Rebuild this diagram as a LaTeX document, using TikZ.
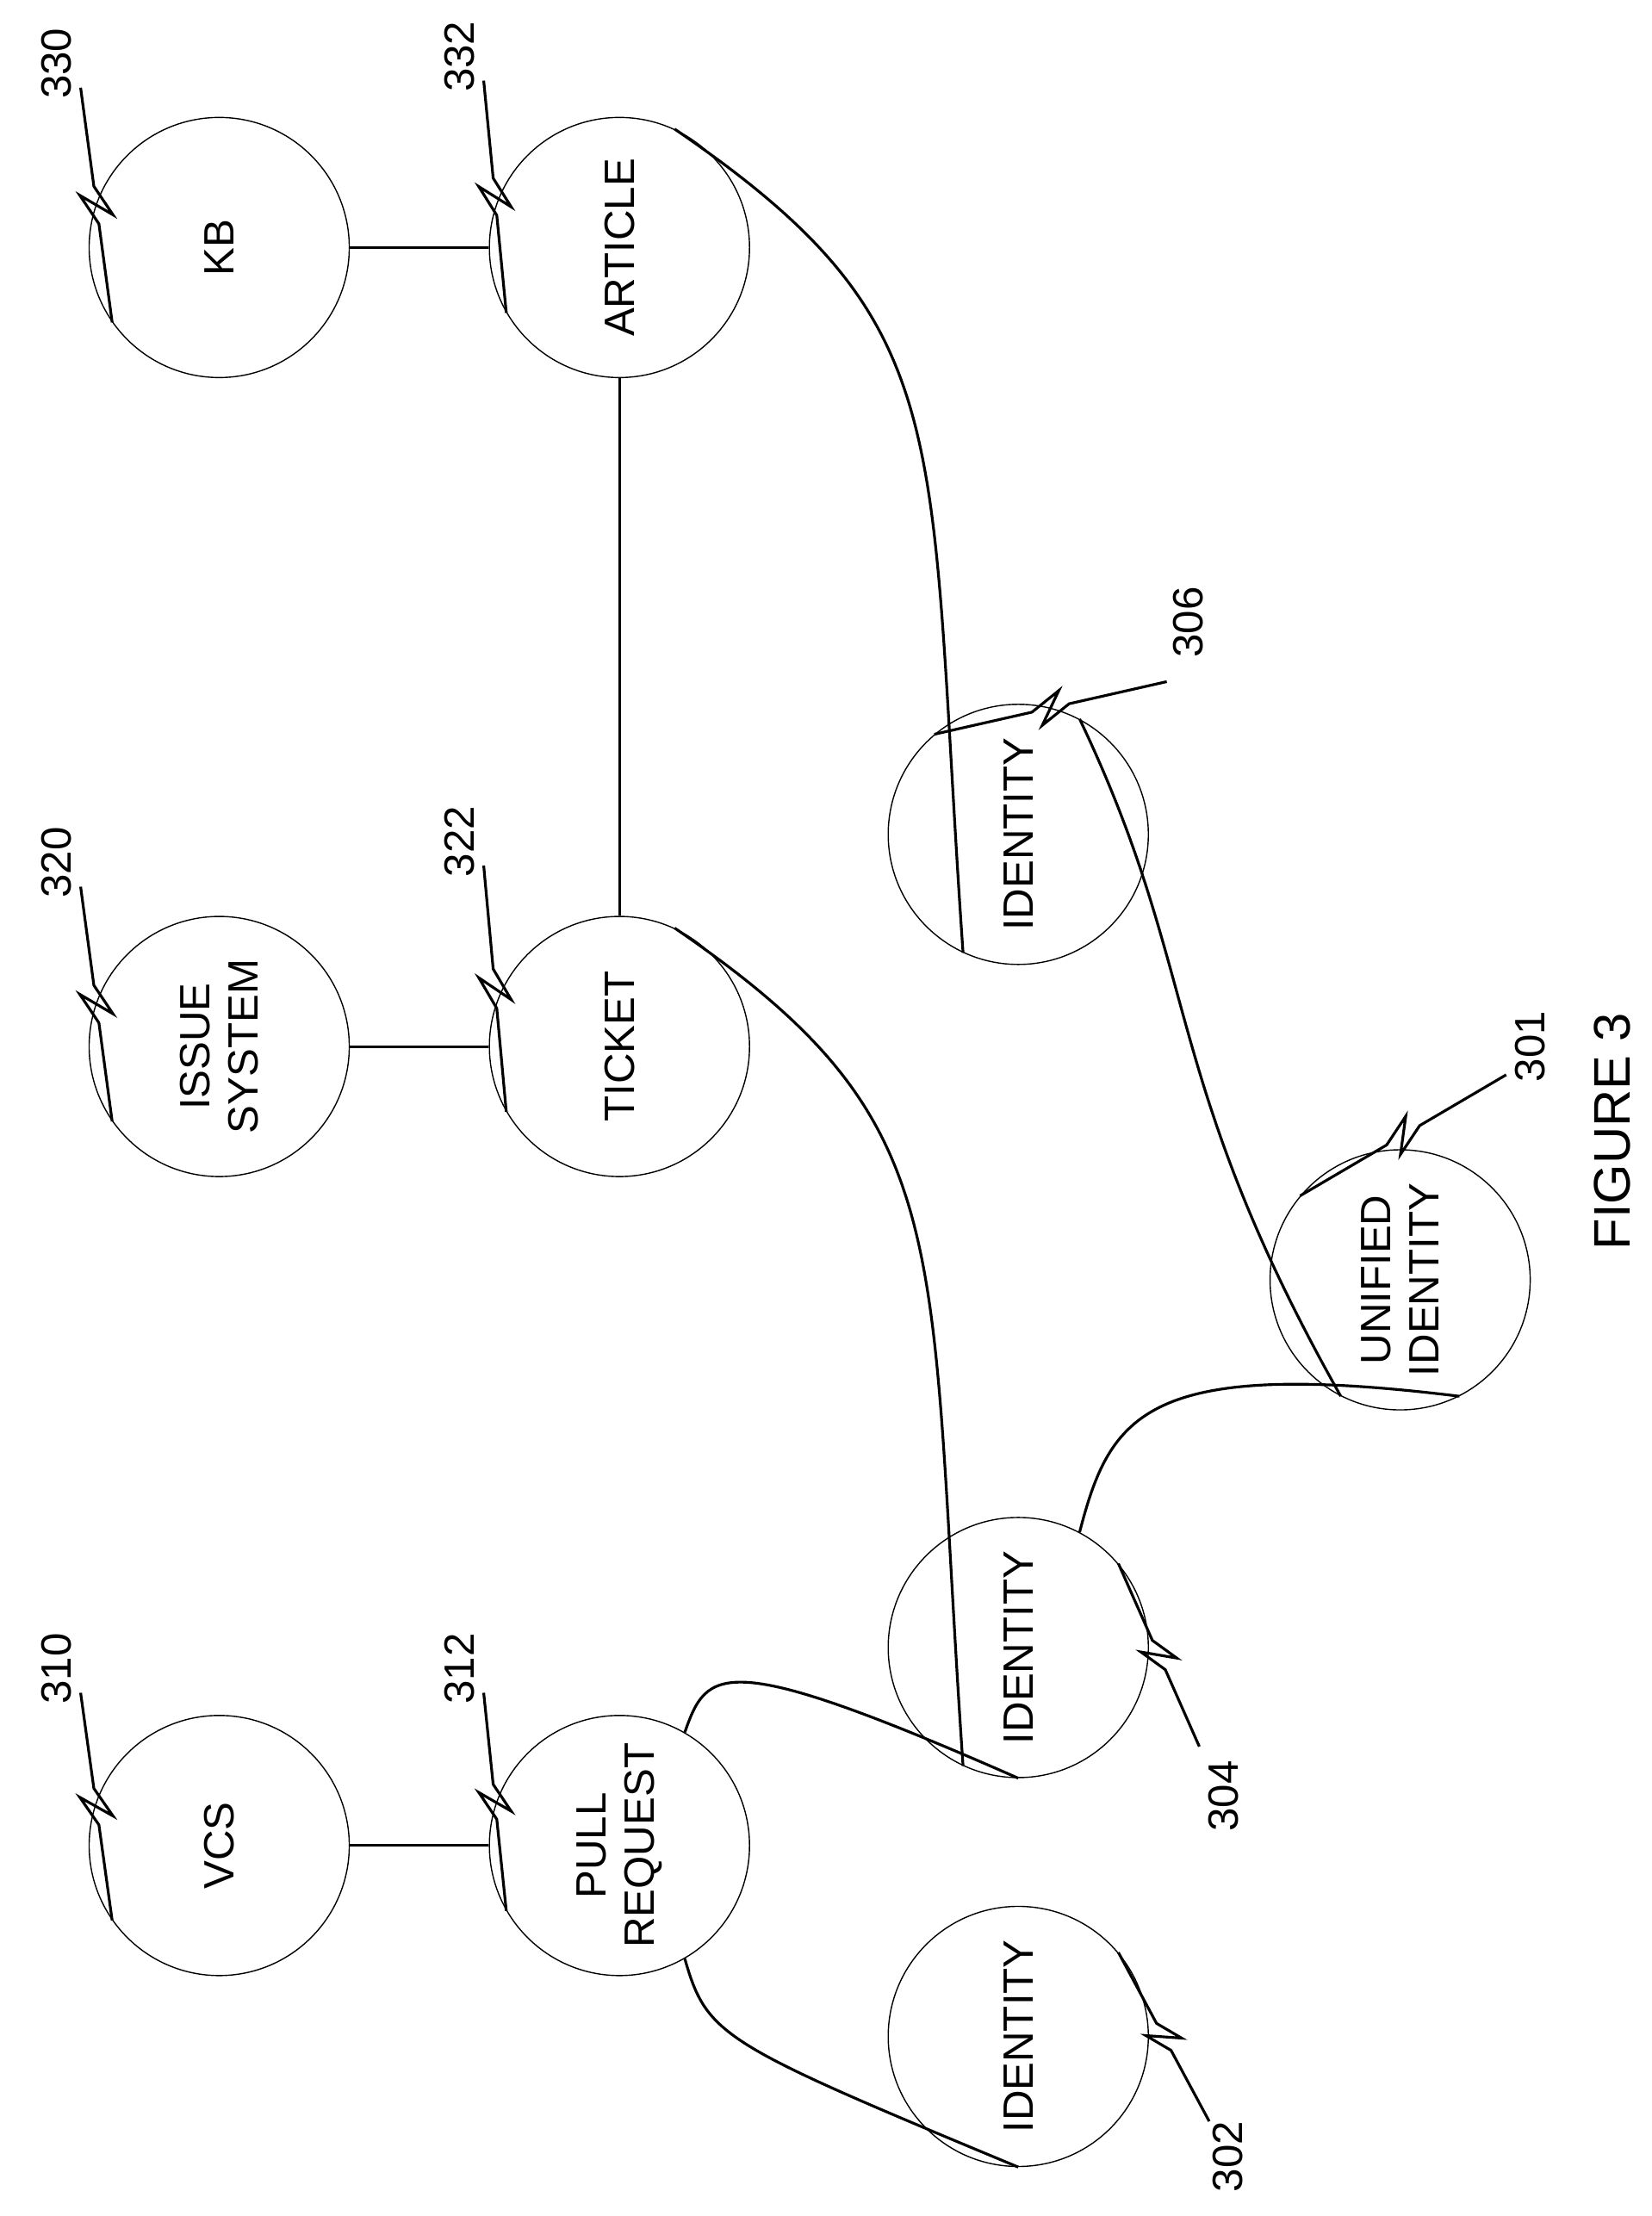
\documentclass[tikz,border=0pt]{standalone}
\usepackage{fontspec}
\setmainfont{Liberation Sans}
\usetikzlibrary{calc}
\tikzset{
  ent/.style={draw,circle,minimum size=3.02cm,inner sep=0pt,align=center,rotate=90,font=\fontsize{14}{16}\selectfont},
  refnum/.style={rotate=90,font=\fontsize{14}{16}\selectfont},
  link/.style={line width=0.9pt}
}
% squiggle leader from (#1) to (#2)
\newcommand{\leader}[2]{%
  \draw[line width=0.9pt] (#1) -- ($(#1)!0.42!(#2)$) -- ($($(#1)!0.55!(#2)$)!5pt!90:(#2)$)
    -- ($($(#1)!0.45!(#2)$)!5pt!-90:(#2)$) -- ($(#1)!0.58!(#2)$) -- (#2);}
\begin{document}
\begin{tikzpicture}[x=0.01642cm,y=-0.01642cm]
		\useasboundingbox (0,0) rectangle (1168,1567);
		\node[ent] (kb) at (155,175) {KB};
		\node[ent] (art) at (438,175) {ARTICLE};
		\node[ent] (iss) at (155,740) {ISSUE\\SYSTEM};
		\node[ent] (tic) at (438,740) {TICKET};
		\node[ent] (vcs) at (155,1305) {VCS};
		\node[ent] (pr) at (438,1305) {PULL\\REQUEST};
		\node[ent] (id302) at (720,1440) {IDENTITY};
		\node[ent] (id304) at (720,1165) {IDENTITY};
		\node[ent] (id306) at (720,590) {IDENTITY};
		\node[ent] (uni) at (990,905) {UNIFIED\\IDENTITY};
		% straight links
		\draw[link] (kb) -- (art);
		\draw[link] (iss) -- (tic);
		\draw[link] (vcs) -- (pr);
		\draw[link] (art) -- (tic);
		% curved links
		\draw[link] (art.-25) .. controls (680,230) and (655,300) .. (id306.155);
		\draw[link] (tic.-25) .. controls (680,795) and (655,870) .. (id304.155);
		\draw[link] (id306.-28) .. controls (850,690) and (820,760) .. (uni.153);
		\draw[link] (uni.207) .. controls (810,960) and (785,1000) .. (id304.-28);
		\draw[link] (pr.-30) .. controls (500,1180) and (510,1165) .. (id304.180);
		\draw[link] (pr.210) .. controls (500,1440) and (510,1445) .. (id302.180);
		% reference numerals
		\node[refnum] (n330) at (40,45) {330};
		\node[refnum] (n332) at (325,40) {332};
		\node[refnum] (n320) at (40,610) {320};
		\node[refnum] (n322) at (325,595) {322};
		\node[refnum] (n310) at (40,1180) {310};
		\node[refnum] (n312) at (325,1180) {312};
		\node[refnum] (n306) at (840,440) {306};
		\node[refnum] (n301) at (1082,740) {301};
		\node[refnum] (n304) at (865,1270) {304};
		\node[refnum] (n302) at (868,1525) {302};
		\leader{kb.125}{57,62}
		\leader{art.120}{342,57}
		\leader{iss.125}{57,627}
		\leader{tic.120}{342,612}
		\leader{vcs.125}{57,1197}
		\leader{pr.120}{342,1197}
		\leader{id306.40}{825,482}
		\leader{uni.50}{1065,760}
		\leader{id304.-50}{848,1235}
		\leader{id302.-50}{855,1500}
		\node[rotate=90,font=\fontsize{17}{19}\selectfont] (fig) at (1140,800) {FIGURE 3};
	\end{tikzpicture}
\end{document}
